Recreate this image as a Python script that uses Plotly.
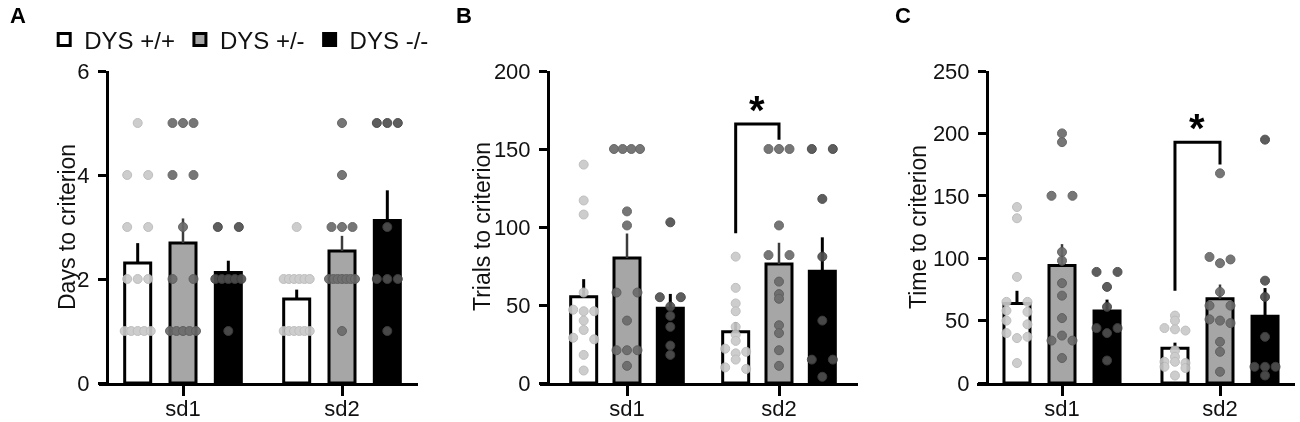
import numpy as np
import plotly.graph_objects as go

sessions = ["sd1", "sd2"]
genotypes = ["DYS +/+", "DYS +/-", "DYS -/-"]

# A: days to criterion (one list per animal group)
days_sd1_wt = [5, 4, 4, 3, 3, 2, 2, 2, 1, 1, 1, 1, 1]
days_sd1_het = [5, 5, 5, 4, 4, 3, 2, 2, 1, 1, 1, 1, 1]
days_sd1_ko = [3, 3, 2, 2, 2, 2, 2, 1]
days_sd2_wt = [3, 2, 2, 2, 2, 2, 2, 1, 1, 1, 1, 1, 1]
days_sd2_het = [5, 4, 3, 3, 3, 2, 2, 2, 2, 2, 2, 2, 1]
days_sd2_ko = [5, 5, 5, 3, 2, 2, 2, 1]

# B: trials to criterion
trials_sd1_wt = [140, 117, 108, 58, 47, 46, 46, 40, 34, 29, 28, 18, 8]
trials_sd1_het = [150, 150, 150, 150, 110, 101, 58, 58, 40, 21, 21, 21, 11]
trials_sd1_ko = [103, 55, 55, 49, 43, 36, 24, 18]
trials_sd2_wt = [81, 61, 51, 46, 36, 31, 27, 22, 20, 19, 15, 10, 9]
trials_sd2_het = [150, 150, 150, 101, 82, 82, 65, 57, 54, 37, 32, 21, 11]
trials_sd2_ko = [150, 150, 118, 81, 40, 15, 15, 4]

# C: time to criterion
time_sd1_wt = [141, 132, 85, 65, 65, 58, 57, 50, 47, 40, 37, 36, 16]
time_sd1_het = [200, 193, 150, 150, 105, 98, 80, 70, 52, 38, 34, 34, 20]
time_sd1_ko = [89, 89, 77, 61, 44, 44, 40, 18]
time_sd2_wt = [54, 50, 44, 43, 42, 26, 21, 17, 17, 16, 13, 12, 6]
time_sd2_het = [168, 101, 99, 96, 73, 62, 62, 51, 50, 48, 33, 25, 9]
time_sd2_ko = [195, 82, 69, 37, 13, 13, 13, 6]

# significance bracket sd2 +/+ vs +/-: [left end, top, right end]
trials_bracket = [96, 166, 156]
time_bracket = [74, 193, 175]

days_ticks = [0, 2, 4, 6]
trials_ticks = [0, 50, 100, 150, 200]
time_ticks = [0, 50, 100, 150, 200, 250]

W, H = 1300, 422
FONT = "Liberation Sans, Arial, sans-serif"
TOP_PX, BOT_PX = 71, 383
OFFSETS = [-0.285, 0.0, 0.285]
BAR_PX = 26
DOT = 9

bar_fill = ["#ffffff", "#a6a6a6", "#000000"]
err_col = ["#000000", "#3c3c3c", "#000000"]
dot_fill = ["#c9c9c9", "#6a6a6a", "#4f4f4f"]
dot_line = ["#b8b8b8", "#5a5a5a", "#3f3f3f"]

# panel geometry: sd1 px, px per group, x-axis left/right px, y-axis px
panels = [
    dict(sd1=183, unit=159, left=99, right=418, yax=107, ymax=6,
         title="Days to criterion", title_x=67, letter="A", letter_x=18,
         ticks=days_ticks,
         groups=[[days_sd1_wt, days_sd2_wt], [days_sd1_het, days_sd2_het],
                 [days_sd1_ko, days_sd2_ko]], bracket=None),
    dict(sd1=627, unit=152, left=540, right=858, yax=548, ymax=200,
         title="Trials to criterion", title_x=482, letter="B", letter_x=464,
         ticks=trials_ticks,
         groups=[[trials_sd1_wt, trials_sd2_wt], [trials_sd1_het, trials_sd2_het],
                 [trials_sd1_ko, trials_sd2_ko]], bracket=trials_bracket),
    dict(sd1=1062, unit=158, left=977, right=1295, yax=987, ymax=250,
         title="Time to criterion", title_x=918, letter="C", letter_x=903,
         ticks=time_ticks,
         groups=[[time_sd1_wt, time_sd2_wt], [time_sd1_het, time_sd2_het],
                 [time_sd1_ko, time_sd2_ko]], bracket=time_bracket),
]


def swarm(values, ypx, xpx, step=10.5, half_max=13.0):
    vals = sorted(values, reverse=True)
    xs, ys = [], []
    i = 0
    while i < len(vals):
        j = i
        while j < len(vals) and (vals[i] - vals[j]) * ypx < DOT * 0.5:
            j += 1
        k = j - i
        slots = [-1.0, 1.0] if k == 2 else [s - (k - 1) / 2 for s in range(k)]
        st = step
        ext = max(abs(s) for s in slots) * st
        if ext > half_max:
            st *= half_max / ext
        for s, v in zip(slots, vals[i:j]):
            xs.append(s * st / xpx)
            ys.append(v)
        i = j
    return xs, ys


fig = go.Figure()
annotations = []
shapes = []
ypx_total = BOT_PX - TOP_PX

for p_i, p in enumerate(panels):
    sfx = "" if p_i == 0 else str(p_i + 1)
    xa, ya = "x" + sfx, "y" + sfx
    ypx = ypx_total / p["ymax"]
    for g in range(3):
        data = p["groups"][g]
        means = [float(np.mean(d)) for d in data]
        sems = [float(np.std(d, ddof=1) / np.sqrt(len(d))) for d in data]
        xs = [s + OFFSETS[g] for s in range(len(sessions))]
        fig.add_trace(go.Bar(
            x=xs, y=means, width=BAR_PX / p["unit"], name=genotypes[g],
            xaxis=xa, yaxis=ya, showlegend=(p_i == 0),
            marker=dict(color=bar_fill[g], line=dict(color="#000000", width=3)),
            error_y=dict(type="data", array=sems, arrayminus=[0, 0],
                         symmetric=False, thickness=3 if g != 1 else 2.5,
                         width=0, color=err_col[g]),
        ))
    for g in range(3):
        data = p["groups"][g]
        px_all, py_all = [], []
        for s, d in enumerate(data):
            dx, dy = swarm(d, ypx, p["unit"])
            px_all += [s + OFFSETS[g] + v for v in dx]
            py_all += dy
        fig.add_trace(go.Scatter(
            x=px_all, y=py_all, mode="markers", xaxis=xa, yaxis=ya,
            showlegend=False, cliponaxis=False, opacity=0.92,
            marker=dict(size=DOT, color=dot_fill[g],
                        line=dict(color=dot_line[g], width=1)),
        ))

    rng = [(p["left"] - p["sd1"]) / p["unit"], (p["right"] - p["sd1"]) / p["unit"]]
    fig.update_layout(**{
        "xaxis" + sfx: dict(
            domain=[p["left"] / W, p["right"] / W], range=rng, anchor=ya,
            tickvals=list(range(len(sessions))), ticktext=sessions,
            showline=True, linewidth=3, linecolor="#000", ticks="outside",
            ticklen=10, tickwidth=3, tickcolor="#000", showgrid=False,
            zeroline=False, fixedrange=True, ticklabelstandoff=-6,
            automargin=False,
            tickfont=dict(size=22, color="#111", family=FONT)),
        "yaxis" + sfx: dict(
            domain=[1 - BOT_PX / H, 1 - TOP_PX / H], range=[0, p["ymax"]],
            anchor="free", position=p["yax"] / W, tickvals=p["ticks"],
            showline=True, linewidth=3, linecolor="#000", ticks="outside",
            ticklen=8, tickwidth=3, tickcolor="#000", showgrid=False,
            zeroline=False, fixedrange=True, ticklabelstandoff=4,
            automargin=False,
            tickfont=dict(size=22, color="#111", family=FONT)),
    })

    annotations.append(dict(
        text=p["title"], textangle=-90, xref="paper", yref="paper",
        x=p["title_x"] / W, y=1 - (TOP_PX + BOT_PX) / 2 / H,
        xanchor="center", yanchor="middle", showarrow=False,
        font=dict(size=23, color="#111", family=FONT)))
    annotations.append(dict(
        text="<b>" + p["letter"] + "</b>", xref="paper", yref="paper",
        x=p["letter_x"] / W, y=1 - 16 / H, xanchor="center", yanchor="middle",
        showarrow=False, font=dict(size=22, color="#000", family=FONT)))

    b = p["bracket"]
    if b:
        x0 = 1 + OFFSETS[0]
        x1 = 1 + OFFSETS[1]
        shapes.append(dict(
            type="path", xref=xa, yref=ya,
            path=f"M{x0},{b[0]} L{x0},{b[1]} L{x1},{b[1]} L{x1},{b[2]}",
            line=dict(color="#000", width=3)))
        annotations.append(dict(
            text="<b>*</b>", xref=xa, yref=ya, x=(x0 + x1) / 2, y=b[1],
            xanchor="center", yanchor="bottom", yshift=-10, showarrow=False,
            font=dict(size=40, color="#000", family=FONT)))

fig.update_layout(
    template="none",
    width=W, height=H, margin=dict(l=0, r=0, t=0, b=0, autoexpand=False),
    paper_bgcolor="#ffffff", plot_bgcolor="#ffffff", barmode="overlay",
    font=dict(family=FONT, color="#111"),
    annotations=annotations, shapes=shapes,
    legend=dict(orientation="h", x=0.034, y=1 - 40 / H, xanchor="left",
                yanchor="middle", font=dict(size=24, family=FONT, color="#111"),
                bgcolor="rgba(0,0,0,0)", itemclick=False, itemdoubleclick=False),
)

fig.write_html("out.html", config={"displayModeBar": False},
               post_script="document.body.style.margin='0';")
